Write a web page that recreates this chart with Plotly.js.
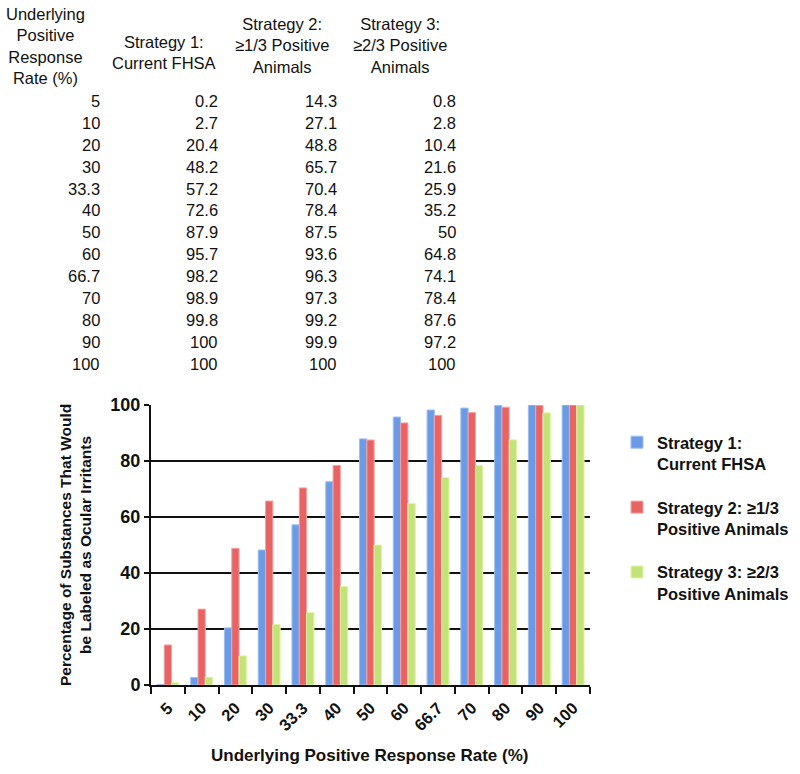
<!DOCTYPE html>
<html>
<head>
<meta charset="utf-8">
<script src="https://cdn.plot.ly/plotly-3.0.1.min.js"></script>
<style>html,body{margin:0;padding:0;background:#fff;}#chart{width:800px;height:774px;}</style>
</head>
<body>
<div id="chart"></div>
<script>
// ---- data ----
const rates = ['5','10','20','30','33.3','40','50','60','66.7','70','80','90','100'];
const strategy1 = [0.2,2.7,20.4,48.2,57.2,72.6,87.9,95.7,98.2,98.9,99.8,100,100];
const strategy2 = [14.3,27.1,48.8,65.7,70.4,78.4,87.5,93.6,96.3,97.3,99.2,99.9,100];
const strategy3 = [0.8,2.8,10.4,21.6,25.9,35.2,50,64.8,74.1,78.4,87.6,97.2,100];
const seriesNames = ['Strategy 1:<br>Current FHSA','Strategy 2: \u22651/3<br>Positive Animals','Strategy 3: \u22652/3<br>Positive Animals'];
const tableHeaders = ['Underlying<br>Positive<br>Response<br>Rate (%)','Strategy 1:<br>Current FHSA','Strategy 2:<br>\u22651/3 Positive<br>Animals','Strategy 3:<br>\u22652/3 Positive<br>Animals'];
const yTickVals = [0,20,40,60,80,100];
const yTitle = 'Percentage of Substances That Would<br>be Labeled as Ocular Irritants';
const xTitle = 'Underlying Positive Response Rate (%)';

// ---- layout geometry ----
const W = 800, H = 774;
const M = {l:151, r:210, t:405, b:89, autoexpand:false};
const PW = W - M.l - M.r, PH = H - M.t - M.b;
const px = v => (v - M.l) / PW;
const py = v => (H - M.b - v) / PH;
const FONT = 'Liberation Sans, Arial, sans-serif';

const colors = ['#6b9be6','#e86464','#c2e27a'];
const lineColors = ['#9dbff2','#f4a3a3','#e2f5a6'];

const series = [strategy1, strategy2, strategy3];
const traces = series.map((vals, i) => ({
  type: 'bar',
  x: rates,
  y: vals,
  name: seriesNames[i],
  legendgroup: 'g' + i,
  marker: {color: colors[i], line: {color: lineColors[i], width: 1}},
  hoverinfo: 'x+y+name'
}));

// table annotations
const annotations = [];
const headerX = [45, 164, 282, 400];
const headerY = [46, 52, 45, 45];
tableHeaders.forEach((t, i) => {
  annotations.push({xref:'paper', yref:'paper', x:px(headerX[i]), y:py(headerY[i]),
    xanchor:'center', yanchor:'middle', text:t, showarrow:false, align:'center',
    font:{family:FONT, size:16.5, color:'#111'}});
});
const colRight = [102, 220, 339, 458];
const columns = [rates, strategy1, strategy2, strategy3];
columns.forEach((col, c) => {
  col.forEach((v, r) => {
    annotations.push({xref:'paper', yref:'paper', x:px(colRight[c]), y:py(100.7 + 21.95 * r),
      xanchor:'right', yanchor:'middle', text:String(v), showarrow:false,
      font:{family:FONT, size:16.5, color:'#111'}});
  });
});
// axis titles
annotations.push({xref:'paper', yref:'paper', x:px(75), y:py(545), textangle:-90,
  xanchor:'center', yanchor:'middle', text:yTitle, showarrow:false, align:'center',
  font:{family:FONT, size:15.5, weight:'bold', color:'#111'}});
annotations.push({xref:'paper', yref:'paper', x:px(369), y:py(755),
  xanchor:'center', yanchor:'middle', text:xTitle, showarrow:false,
  font:{family:FONT, size:17, weight:'bold', color:'#111'}});

const layout = {
  width: W, height: H,
  margin: M,
  paper_bgcolor: '#fff', plot_bgcolor: '#fff',
  barmode: 'group', bargap: 0.35, bargroupgap: 0,
  font: {family: FONT, color: '#111'},
  xaxis: {
    type: 'category', showgrid: false, showline: true, linecolor: '#111', linewidth: 2,
    ticks: 'outside', tickson: 'boundaries', ticklen: 7, tickwidth: 2, tickcolor: '#111',
    ticklabelstandoff: 5,
    tickangle: -45, tickfont: {family: FONT, size: 16.5, weight: 'bold', color: '#111'},
    zeroline: false
  },
  yaxis: {
    range: [0, 100], tickvals: yTickVals, showgrid: true, gridcolor: '#111', gridwidth: 2,
    showline: true, linecolor: '#111', linewidth: 2, ticks: 'outside', ticklen: 5,
    tickwidth: 2, tickcolor: '#111', zeroline: false,
    tickfont: {family: FONT, size: 18, weight: 'bold', color: '#111'}
  },
  showlegend: true,
  legend: {
    x: px(617), xanchor: 'left', y: py(425), yanchor: 'top',
    font: {family: FONT, size: 16.5, weight: 'bold', color: '#111'},
    tracegroupgap: 19, valign: 'top', bgcolor: 'rgba(0,0,0,0)', traceorder: 'grouped'
  },
  annotations: annotations
};

Plotly.newPlot('chart', traces, layout, {displayModeBar: false, staticPlot: true});
</script>
</body>
</html>
